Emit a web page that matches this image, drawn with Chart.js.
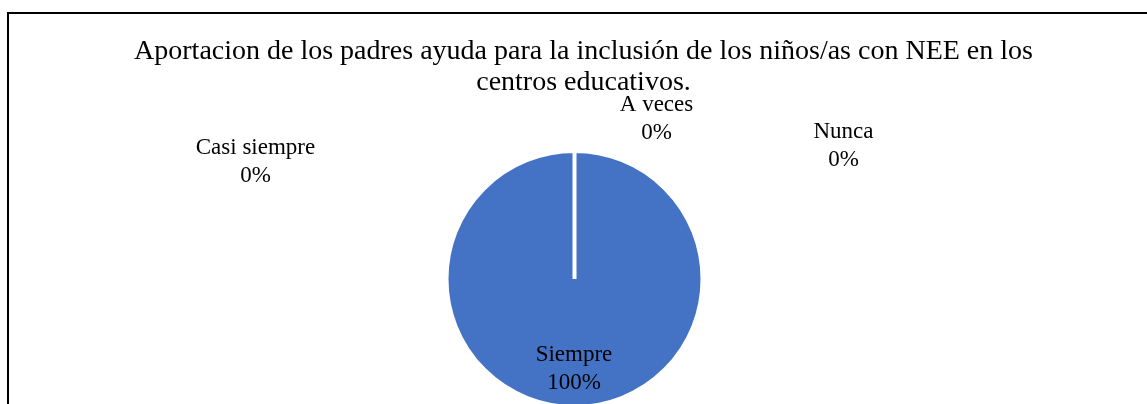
<!DOCTYPE html>
<html>
<head>
<meta charset="utf-8">
<script src="https://cdn.jsdelivr.net/npm/chart.js@4/dist/chart.umd.min.js"></script>
<style>
  html, body { margin: 0; padding: 0; background: #fff; overflow: hidden; }
  #frame {
    position: absolute;
    left: 7px;
    top: 12px;
    width: 1150px;
    height: 446px;
    border: 2px solid #000;
  }
  #frame canvas { display: block; }
</style>
</head>
<body>
<div id="frame"><canvas id="pie" width="1150" height="446"></canvas></div>
<script>
var categories = ["Siempre", "Casi siempre", "A veces", "Nunca"];
var values = [100, 0, 0, 0];
var titleLines = [
  "Aportacion de los padres ayuda para la inclusión de los niños/as con NEE en los",
  "centros educativos."
];

// where each data label sits, relative to the pie centre (first baseline)
var labelOffsets = [
  { dx: -0.5, dy: 81.5 },
  { dx: -319, dy: -125.5 },
  { dx: 82, dy: -168.5 },
  { dx: 269, dy: -141 }
];

var serif = "Liberation Serif, Times New Roman, serif";
Chart.defaults.font.family = serif;
Chart.defaults.color = "#000";

var pieLabels = {
  id: "pieLabels",
  afterLayout: function(chart) {
    // title is centred on the whole frame, the pie sits a bit to the left
    if (chart.titleBlock) chart.titleBlock.left += 18;
  },
  afterDatasetsDraw: function(chart) {
    var meta = chart.getDatasetMeta(0);
    var arc = meta.data[0];
    var data = chart.data.datasets[0].data;
    var total = data.reduce(function(a, b) { return a + b; }, 0);
    var ctx = chart.ctx;
    ctx.save();
    ctx.fillStyle = "#000";
    ctx.font = "23px " + serif;
    ctx.textAlign = "center";
    ctx.textBaseline = "alphabetic";
    chart.data.labels.forEach(function(name, i) {
      var off = labelOffsets[i];
      var x = arc.x + off.dx;
      var y = arc.y + off.dy;
      var pct = Math.round(data[i] / total * 100) + "%";
      ctx.fillText(name, x, y);
      ctx.fillText(pct, x, y + 28);
    });
    ctx.restore();
  }
};

var ctx = document.getElementById("pie").getContext("2d");
var chart = new Chart(ctx, {
  type: "pie",
  data: {
    labels: categories,
    datasets: [
      {
        data: values,
        backgroundColor: ["#4472C4", "#ED7D31", "#A5A5A5", "#FFC000"],
        borderColor: "#fff",
        borderWidth: 4
      }
    ]
  },
  options: {
    responsive: false,
    animation: false,
    radius: 128,
    layout: {
      padding: { left: 0, right: 19, top: 0, bottom: 0 }
    },
    plugins: {
      legend: { display: false },
      tooltip: { enabled: false },
      title: {
        display: true,
        text: titleLines,
        color: "#000",
        font: { family: serif, size: 28, weight: 400, lineHeight: 31 / 28 },
        padding: { top: 22, bottom: 0 }
      }
    }
  },
  plugins: [pieLabels]
});
</script>
</body>
</html>
